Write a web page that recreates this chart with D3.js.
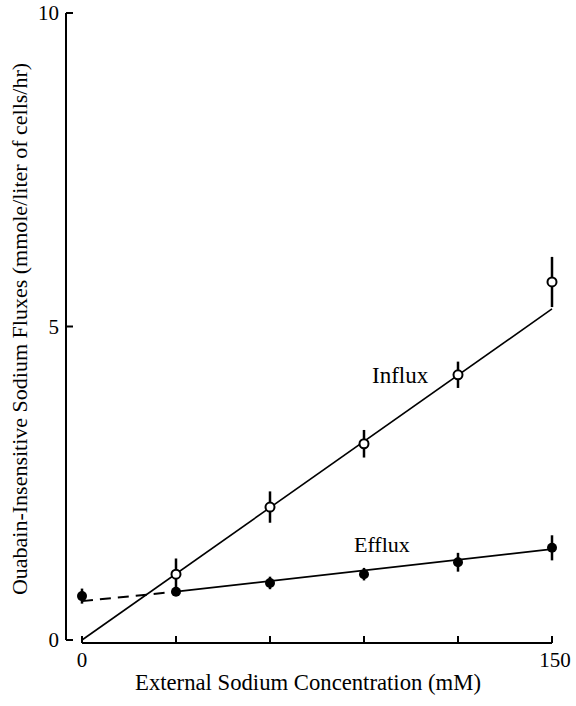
<!DOCTYPE html>
<html>
<head>
<meta charset="utf-8">
<script src="https://cdn.jsdelivr.net/npm/d3@7"></script>
<style>
  html, body { margin: 0; padding: 0; background: #fff; }
  text { font-family: "Liberation Serif", "DejaVu Serif", serif; fill: #000; }
</style>
</head>
<body>
<div id="chart"></div>
<script>
// data
const conc = [0, 30, 60, 90, 120, 150]

const influxX = [30, 60, 90, 120, 150]
const influxY = [1.05, 2.12, 3.13, 4.23, 5.71]
const influxErr = [0.25, 0.25, 0.22, 0.21, 0.40]

const effluxX = [0, 30, 60, 90, 120, 150]
const effluxY = [0.70, 0.77, 0.91, 1.05, 1.24, 1.47]
const effluxErr = [0.12, 0, 0.10, 0.10, 0.15, 0.20]

// fitted lines (start, end)
const influxFit = [[0, 0], [150, 5.28]]
const effluxFit = [[30, 0.77], [150, 1.45]]
const effluxDash = [[0, 0.62], [30, 0.77]]

const yTicks = [0, 5, 10]
const xTickLabels = [0, 150]

const width = 576, height = 706

const svg = d3.select('#chart').append('svg')
    .attr('width', width)
    .attr('height', height)

const x = d3.scaleLinear().domain([0, 150]).range([82, 552])
const y = d3.scaleLinear().domain([0, 10]).range([640, 13])

// y axis (sits left of the x axis start)
const yAxis = svg.append('g')
yAxis.append('line')
    .attr('x1', 66).attr('x2', 66)
    .attr('y1', y(10)).attr('y2', y(0))
    .attr('stroke', '#000').attr('stroke-width', 2)
yAxis.selectAll('line.tick')
    .data(yTicks).enter().append('line')
    .attr('class', 'tick')
    .attr('x1', 66).attr('x2', 73)
    .attr('y1', d => y(d)).attr('y2', d => y(d))
    .attr('stroke', '#000').attr('stroke-width', 2)
yAxis.selectAll('text')
    .data(yTicks).enter().append('text')
    .attr('x', 59)
    .attr('y', d => y(d) + 7)
    .attr('text-anchor', 'end')
    .style('font-size', '21px')
    .text(d => d)

// x axis
const xAxis = svg.append('g')
xAxis.append('line')
    .attr('x1', x(0)).attr('x2', x(150))
    .attr('y1', 643).attr('y2', 643)
    .attr('stroke', '#000').attr('stroke-width', 2)
xAxis.selectAll('line.tick')
    .data(conc).enter().append('line')
    .attr('class', 'tick')
    .attr('x1', d => x(d)).attr('x2', d => x(d))
    .attr('y1', 643).attr('y2', 636)
    .attr('stroke', '#000').attr('stroke-width', 2)
xAxis.selectAll('text')
    .data(xTickLabels).enter().append('text')
    .attr('x', d => x(d) + (d == 150 ? 3 : 0))
    .attr('y', 667)
    .attr('text-anchor', 'middle')
    .style('font-size', '21px')
    .text(d => d)

// axis titles
svg.append('text')
    .attr('x', 308).attr('y', 690)
    .attr('text-anchor', 'middle')
    .style('font-size', '22.7px')
    .text('External Sodium Concentration (mM)')

svg.append('text')
    .attr('transform', 'translate(27,329) rotate(-90)')
    .attr('text-anchor', 'middle')
    .style('font-size', '22px')
    .text('Ouabain-Insensitive Sodium Fluxes (mmole/liter of cells/hr)')

const line = d3.line().x(d => x(d[0])).y(d => y(d[1]))

// regression lines
svg.append('path').attr('d', line(influxFit))
    .attr('fill', 'none').attr('stroke', '#000').attr('stroke-width', 1.6)
svg.append('path').attr('d', line(effluxFit))
    .attr('fill', 'none').attr('stroke', '#000').attr('stroke-width', 1.8)
svg.append('path').attr('d', line(effluxDash))
    .attr('fill', 'none').attr('stroke', '#000').attr('stroke-width', 2)
    .attr('stroke-dasharray', '11,7')

// error bars
function errorBars(xs, ys, errs) {
    svg.append('g').selectAll('line')
        .data(xs.map((d, i) => [d, ys[i], errs[i]]).filter(d => d[2] > 0))
        .enter().append('line')
        .attr('x1', d => x(d[0])).attr('x2', d => x(d[0]))
        .attr('y1', d => y(d[1] - d[2])).attr('y2', d => y(d[1] + d[2]))
        .attr('stroke', '#000').attr('stroke-width', 2.5)
}
errorBars(influxX, influxY, influxErr)
errorBars(effluxX, effluxY, effluxErr)

// influx points (open)
svg.append('g').selectAll('circle')
    .data(influxX.map((d, i) => [d, influxY[i]]))
    .enter().append('circle')
    .attr('cx', d => x(d[0])).attr('cy', d => y(d[1]))
    .attr('r', 4.5)
    .attr('fill', '#fff').attr('stroke', '#000').attr('stroke-width', 2)

// efflux points (filled)
svg.append('g').selectAll('circle')
    .data(effluxX.map((d, i) => [d, effluxY[i]]))
    .enter().append('circle')
    .attr('cx', d => x(d[0])).attr('cy', d => y(d[1]))
    .attr('r', 5)
    .attr('fill', '#000')

// series labels
svg.append('text')
    .attr('x', 372).attr('y', 383)
    .style('font-size', '23px')
    .text('Influx')
svg.append('text')
    .attr('x', 354).attr('y', 552)
    .style('font-size', '22px')
    .text('Efflux')
</script>
</body>
</html>
